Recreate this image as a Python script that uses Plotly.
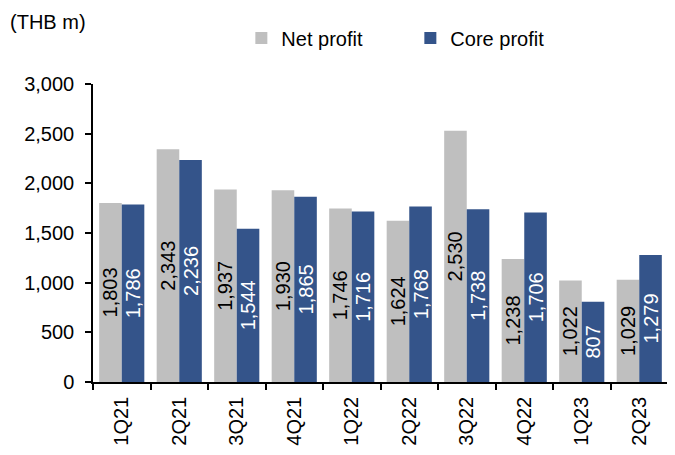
import plotly.graph_objects as go

quarters = ["1Q21", "2Q21", "3Q21", "4Q21", "1Q22", "2Q22", "3Q22", "4Q22", "1Q23", "2Q23"]
net_profit = [1803, 2343, 1937, 1930, 1746, 1624, 2530, 1238, 1022, 1029]
core_profit = [1786, 2236, 1544, 1865, 1716, 1768, 1738, 1706, 807, 1279]
y_ticks = [0, 500, 1000, 1500, 2000, 2500, 3000]

FONT = "Liberation Sans, Arial, sans-serif"
FS = 20

fig = go.Figure()
fig.add_trace(go.Bar(
    x=quarters, y=net_profit, name="Net profit",
    marker=dict(color="#BFBFBF", line=dict(width=0)),
    text=[f"{v:,}" for v in net_profit], textposition="inside",
    insidetextanchor="middle", textangle=-90,
    textfont=dict(color="black", size=FS, family=FONT),
))
fig.add_trace(go.Bar(
    x=quarters, y=core_profit, name="Core profit",
    marker=dict(color="#34548A", line=dict(width=0)),
    text=[f"{v:,}" for v in core_profit], textposition="inside",
    insidetextanchor="middle", textangle=-90,
    textfont=dict(color="white", size=FS, family=FONT),
))

fig.update_layout(
    width=675, height=455,
    margin=dict(l=85, r=15, t=76, b=81, autoexpand=False),
    paper_bgcolor="white", plot_bgcolor="white",
    font=dict(family=FONT, size=FS, color="black"),
    barmode="group", bargap=0.215, bargroupgap=0,
    uniformtext=dict(minsize=FS, mode="show"),
    showlegend=True,
    legend=dict(orientation="h", x=0.258, y=1.154, xanchor="left", yanchor="middle",
                font=dict(size=FS), itemwidth=30, entrywidth=124,
                bgcolor="rgba(0,0,0,0)"),
)
fig.add_annotation(text="(THB m)", xref="paper", yref="paper", x=-0.148, y=1.208,
                   xanchor="left", yanchor="middle", showarrow=False,
                   font=dict(size=FS))

fig.update_xaxes(
    showline=True, linecolor="black", linewidth=1.5,
    ticks="outside", ticklen=6, tickwidth=1.5, tickcolor="black",
    tickson="boundaries", tickangle=-90, showgrid=False,
    tickfont=dict(size=FS), automargin=False, ticklabelstandoff=5,
)
fig.update_yaxes(
    range=[0, 3000], tickvals=y_ticks, tickformat=",",
    showline=True, linecolor="black", linewidth=1.5,
    ticks="outside", ticklen=6, tickwidth=1.5, tickcolor="black",
    showgrid=False, zeroline=False, tickfont=dict(size=FS), automargin=False,
    ticklabelstandoff=7,
)

fig.write_html("out.html")
